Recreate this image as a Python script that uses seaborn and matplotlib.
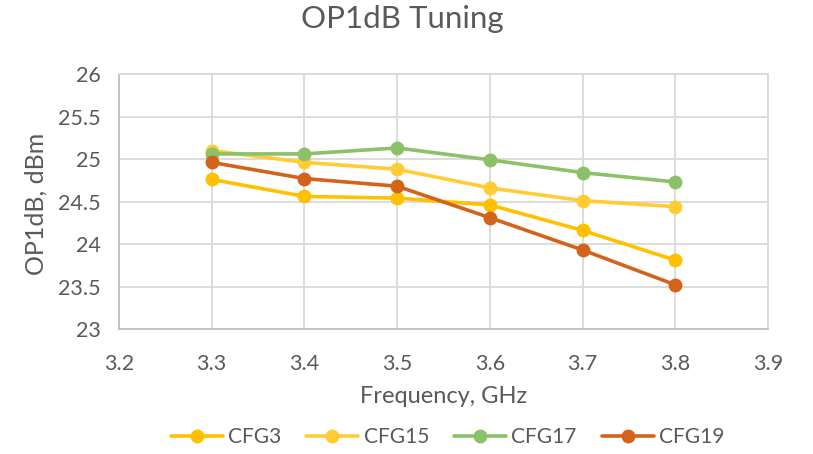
import matplotlib
matplotlib.use("Agg")
import matplotlib.pyplot as plt
import seaborn as sns
import pandas as pd

# Frequency sweep (GHz) and measured output 1 dB compression point (dBm)
freq = [3.3, 3.4, 3.5, 3.6, 3.7, 3.8]
cfg3 = [24.76, 24.56, 24.54, 24.46, 24.16, 23.81]
cfg15 = [25.10, 24.96, 24.88, 24.66, 24.51, 24.44]
cfg17 = [25.06, 25.06, 25.13, 24.99, 24.84, 24.73]
cfg19 = [24.96, 24.77, 24.68, 24.31, 23.93, 23.52]

series_names = ["CFG3", "CFG15", "CFG17", "CFG19"]
series_values = [cfg3, cfg15, cfg17, cfg19]
colors = ["#FFC000", "#FFCD33", "#8BC168", "#D3621A"]

x_ticks = [3.2, 3.3, 3.4, 3.5, 3.6, 3.7, 3.8, 3.9]
y_ticks = [23, 23.5, 24, 24.5, 25, 25.5, 26]

df = pd.DataFrame({
    "Frequency": freq * len(series_names),
    "OP1dB": [v for vals in series_values for v in vals],
    "Config": [n for n in series_names for _ in freq],
})

sns.set_theme(style="white")
plt.rcParams["font.family"] = ["Lato", "DejaVu Sans"]
text_color = "#595959"
grid_color = "#D9D9D9"
line_w = 2.6
marker_s = 10

fig = plt.figure(figsize=(8.13, 4.54), dpi=100)
ax = fig.add_axes([0.1464, 0.2753, 0.7982, 0.5617])

sns.lineplot(
    data=df, x="Frequency", y="OP1dB", hue="Config",
    hue_order=series_names, palette=colors,
    marker="o", markersize=marker_s, markeredgewidth=0,
    linewidth=line_w, dashes=False, ax=ax, legend=False,
)

ax.set_xlim(3.2, 3.9)
ax.set_ylim(23, 26)
ax.set_xticks(x_ticks)
ax.set_yticks(y_ticks)
ax.set_xticklabels([f"{t:g}" for t in x_ticks])
ax.set_yticklabels([f"{t:g}" for t in y_ticks])
ax.grid(True, color=grid_color, linewidth=1.3)
ax.set_axisbelow(True)
for side in ["top", "right"]:
    ax.spines[side].set_color(grid_color)
    ax.spines[side].set_linewidth(1.3)
for side in ["left", "bottom"]:
    ax.spines[side].set_color("#BFBFBF")
    ax.spines[side].set_linewidth(1.3)
ax.tick_params(axis="both", length=0, labelsize=15.5, labelcolor=text_color)
ax.tick_params(axis="x", pad=18)
ax.tick_params(axis="y", pad=13)

ax.set_xlabel("Frequency, GHz", fontsize=17, color=text_color)
ax.set_ylabel("OP1dB, dBm", fontsize=18, color=text_color)
ax.xaxis.set_label_coords(0.5, -0.225)
ax.yaxis.set_label_coords(-0.11, 0.49)

fig.suptitle("OP1dB Tuning", x=0.495, y=0.99, va="top",
             fontsize=22.5, color=text_color)

handles = [
    plt.Line2D([], [], color=c, linewidth=line_w, marker="o",
               markersize=marker_s, markeredgewidth=0)
    for c in colors
]
fig.legend(handles, series_names, loc="center", ncol=4,
           bbox_to_anchor=(0.5504, 0.037), frameon=False,
           fontsize=15, labelcolor=text_color,
           handlelength=2.5, handletextpad=0.25, columnspacing=1.2)

fig.savefig("out.png", dpi=100, facecolor="white")
